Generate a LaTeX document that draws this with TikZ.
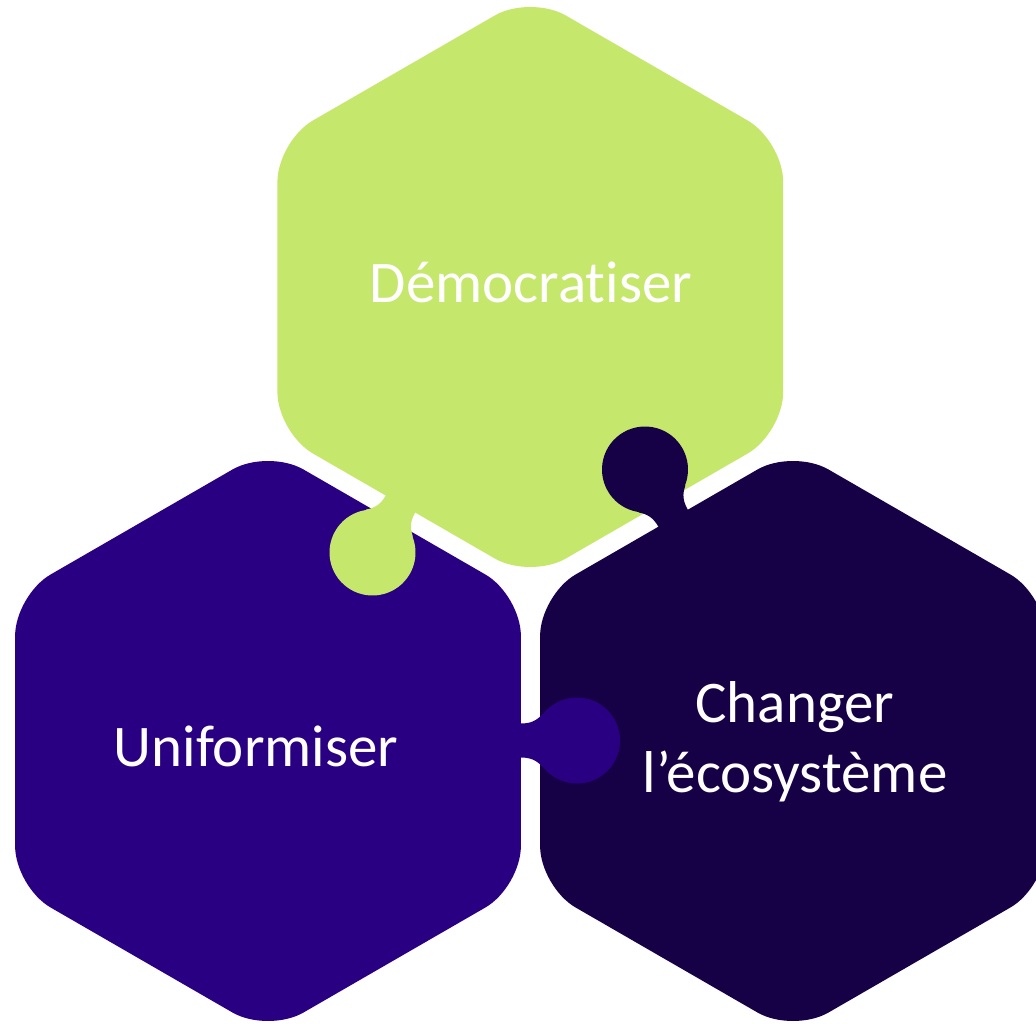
\documentclass[tikz,border=0pt]{standalone}
\usepackage{fontspec}
\setmainfont[Ligatures=NoCommon]{Carlito}
\definecolor{hgreen}{RGB}{197,232,108}
\definecolor{hpurple}{RGB}{42,0,130}
\definecolor{hdark}{RGB}{22,0,70}
\newcommand\hexfill[3]{%
  \fill[#1, rounded corners=41pt, shift={(#2,#3)}]
    (0,-292) -- (252.9,-146) -- (252.9,146) -- (0,292) -- (-252.9,146) -- (-252.9,-146) -- cycle;}
\newcommand\knobfill[4]{%
  \begin{scope}[shift={(#2,#3)}, rotate=#4]
    \fill[#1] (56,0) circle[radius=43];
    \fill[#1] (-6,-17) -- (0,-17) .. controls (10,-17) and (16,-20) .. (22,-27) -- (40,0)
      -- (22,27) .. controls (16,20) and (10,17) .. (0,17) -- (-6,17) -- cycle;
  \end{scope}}
\begin{document}
\begin{tikzpicture}[x=1pt,y=-1pt,
  hextext/.style={text=white, font=\fontsize{59}{70}\selectfont, align=center, inner sep=0pt}]
\useasboundingbox (0,0) rectangle (1036,1024);
% hexagons
\hexfill{hgreen}{530.3}{287}
\hexfill{hpurple}{268}{741}
\hexfill{hdark}{793}{741}
% puzzle knobs
\knobfill{hgreen}{400.5}{504}{240}
\knobfill{hdark}{673}{518}{120}
\knobfill{hpurple}{521}{740.5}{0}
% labels
\node[hextext, anchor=base] (democratiser) at (531,303) {Démocratiser};
\node[hextext, anchor=base] (uniformiser) at (256,766) {Uniformiser};
\node[hextext, anchor=base] (changer) at (795,792) {Changer\\l’écosystème};
\end{tikzpicture}
\end{document}
